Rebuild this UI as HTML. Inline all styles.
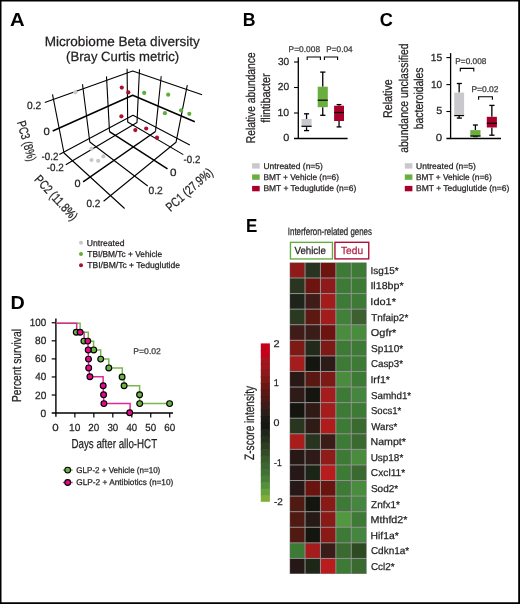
<!DOCTYPE html>
<html><head><meta charset="utf-8"><title>Figure</title>
<style>
html,body{margin:0;padding:0;background:#fff;}
body{width:520px;height:604px;overflow:hidden;}
svg{display:block;font-family:"Liberation Sans", sans-serif;text-rendering:geometricPrecision;will-change:transform;}
</style></head><body>
<svg width="520" height="604" viewBox="0 0 520 604">
<rect x="0" y="0" width="520" height="604" fill="#fff"/>
<text x="10.09" y="26.0" font-size="18.8" font-weight="bold" textLength="14.66" lengthAdjust="spacingAndGlyphs" fill="#000">A</text>
<text x="242.8" y="26.0" font-size="18.8" font-weight="bold" textLength="12.79" lengthAdjust="spacingAndGlyphs" fill="#000">B</text>
<text x="379.77" y="26.0" font-size="18.8" font-weight="bold" textLength="13.12" lengthAdjust="spacingAndGlyphs" fill="#000">C</text>
<text x="10.57" y="308.8" font-size="18.8" font-weight="bold" textLength="14.27" lengthAdjust="spacingAndGlyphs" fill="#000">D</text>
<text x="246.05" y="231.9" font-size="18.8" font-weight="bold" textLength="11.32" lengthAdjust="spacingAndGlyphs" fill="#000">E</text>
<text x="44.68" y="45.6" font-size="13.4" textLength="155.17" lengthAdjust="spacingAndGlyphs" fill="#231f20" stroke="#231f20" stroke-width="0.25">Microbiome Beta diversity</text>
<text x="66.08" y="61.3" font-size="13.4" textLength="113.06" lengthAdjust="spacingAndGlyphs" fill="#231f20" stroke="#231f20" stroke-width="0.25">(Bray Curtis metric)</text>
<polyline points="44.8,102.5 132.7,71.1 202.1,94.8" fill="none" stroke="#000" stroke-width="1.1" stroke-linejoin="round"/>
<polyline points="52.7,131.0 132.7,95.3 194.8,121.8" fill="none" stroke="#000" stroke-width="1.5" stroke-linejoin="round"/>
<polyline points="59.3,154.6 133.0,115.2 189.8,145.0" fill="none" stroke="#000" stroke-width="1.1" stroke-linejoin="round"/>
<polyline points="52.5,94.4 64.0,153.0 124.6,208.5" fill="none" stroke="#000" stroke-width="1.1" stroke-linejoin="round"/>
<polyline points="82.5,84.2 89.8,142.0 147.7,186.0" fill="none" stroke="#000" stroke-width="1.1" stroke-linejoin="round"/>
<polyline points="106.5,76.4 109.5,131.7" fill="none" stroke="#000" stroke-width="1.1" stroke-linejoin="round"/>
<polyline points="109.5,131.7 167.5,168.8" fill="none" stroke="#000" stroke-width="1.5" stroke-linejoin="round"/>
<polyline points="127.1,68.7 127.7,122.0 183.3,154.6" fill="none" stroke="#000" stroke-width="1.1" stroke-linejoin="round"/>
<polyline points="139.5,69.2 137.0,122.5 65.8,164.8" fill="none" stroke="#000" stroke-width="1.1" stroke-linejoin="round"/>
<polyline points="161.2,76.2 155.5,131.5" fill="none" stroke="#000" stroke-width="1.1" stroke-linejoin="round"/>
<polyline points="155.5,131.5 83.1,181.8" fill="none" stroke="#000" stroke-width="1.5" stroke-linejoin="round"/>
<polyline points="187.3,85.2 176.0,142.3 103.6,201.2" fill="none" stroke="#000" stroke-width="1.1" stroke-linejoin="round"/>
<circle cx="75.3" cy="92.3" r="2.1" fill="#c8c8c8"/>
<circle cx="91.5" cy="148.8" r="2.1" fill="#c8c8c8"/>
<circle cx="91.5" cy="160.0" r="2.1" fill="#c8c8c8"/>
<circle cx="98.2" cy="160.8" r="2.1" fill="#c8c8c8"/>
<circle cx="103.4" cy="156.4" r="2.1" fill="#c8c8c8"/>
<circle cx="121.8" cy="87.6" r="2.1" fill="#ad0f2e"/>
<circle cx="128.3" cy="92.4" r="2.1" fill="#ad0f2e"/>
<circle cx="121.4" cy="116.3" r="2.1" fill="#ad0f2e"/>
<circle cx="135.3" cy="130.1" r="2.1" fill="#ad0f2e"/>
<circle cx="146.2" cy="128.5" r="2.1" fill="#ad0f2e"/>
<circle cx="157.0" cy="137.7" r="2.1" fill="#ad0f2e"/>
<circle cx="144.2" cy="92.9" r="2.1" fill="#5fae3c"/>
<circle cx="168.2" cy="94.7" r="2.1" fill="#5fae3c"/>
<circle cx="164.9" cy="113.2" r="2.1" fill="#5fae3c"/>
<circle cx="181.1" cy="110.3" r="2.1" fill="#5fae3c"/>
<circle cx="189.3" cy="113.8" r="2.1" fill="#5fae3c"/>
<text x="27.09" y="108.9" font-size="10.5" textLength="14.22" lengthAdjust="spacingAndGlyphs" fill="#231f20" stroke="#231f20" stroke-width="0.25">0.2</text>
<text x="43.55" y="135.4" font-size="10.5" textLength="6.29" lengthAdjust="spacingAndGlyphs" fill="#231f20" stroke="#231f20" stroke-width="0.25">0</text>
<text x="41.56" y="159.7" font-size="10.5" textLength="16.83" lengthAdjust="spacingAndGlyphs" fill="#231f20" stroke="#231f20" stroke-width="0.25">-0.2</text>
<text x="46.65" y="170.6" font-size="10.5" textLength="17.05" lengthAdjust="spacingAndGlyphs" fill="#231f20" stroke="#231f20" stroke-width="0.25">-0.2</text>
<text x="74.56" y="187.3" font-size="10.5" textLength="6.06" lengthAdjust="spacingAndGlyphs" fill="#231f20" stroke="#231f20" stroke-width="0.25">0</text>
<text x="86.4" y="206.9" font-size="10.5" textLength="13.9" lengthAdjust="spacingAndGlyphs" fill="#231f20" stroke="#231f20" stroke-width="0.25">0.2</text>
<text x="183.56" y="162.5" font-size="10.5" textLength="16.73" lengthAdjust="spacingAndGlyphs" fill="#231f20" stroke="#231f20" stroke-width="0.25">-0.2</text>
<text x="170.13" y="176.3" font-size="10.5" textLength="6.52" lengthAdjust="spacingAndGlyphs" fill="#231f20" stroke="#231f20" stroke-width="0.25">0</text>
<text x="148.59" y="194.4" font-size="10.5" textLength="14.22" lengthAdjust="spacingAndGlyphs" fill="#231f20" stroke="#231f20" stroke-width="0.25">0.2</text>
<text x="-20.79" y="4.4" font-size="12.8" textLength="41.38" lengthAdjust="spacingAndGlyphs" fill="#231f20" stroke="#231f20" stroke-width="0.25" transform="translate(26.8,141.1) rotate(74)">PC3 (8%)</text>
<text x="-28.32" y="4.4" font-size="12.8" textLength="56.45" lengthAdjust="spacingAndGlyphs" fill="#231f20" stroke="#231f20" stroke-width="0.25" transform="translate(56.4,197.8) rotate(47)">PC2 (11.8%)</text>
<text x="-29.03" y="4.4" font-size="12.8" textLength="57.86" lengthAdjust="spacingAndGlyphs" fill="#231f20" stroke="#231f20" stroke-width="0.25" transform="translate(189.3,189.6) rotate(-41.5)">PC1 (27.9%)</text>
<circle cx="81" cy="242.75" r="2.0" fill="#c8c8c8"/>
<text x="86.83" y="245.6" font-size="8.6" textLength="37.72" lengthAdjust="spacingAndGlyphs" fill="#231f20" stroke="#231f20" stroke-width="0.25">Untreated</text>
<circle cx="81" cy="253.95000000000002" r="2.0" fill="#5fae3c"/>
<text x="87.31" y="256.8" font-size="8.6" textLength="74.75" lengthAdjust="spacingAndGlyphs" fill="#231f20" stroke="#231f20" stroke-width="0.25">TBI/BM/Tc + Vehicle</text>
<circle cx="81" cy="265.34999999999997" r="2.0" fill="#ad0f2e"/>
<text x="87.31" y="268.2" font-size="8.6" textLength="92.66" lengthAdjust="spacingAndGlyphs" fill="#231f20" stroke="#231f20" stroke-width="0.25">TBI/BM/Tc + Teduglutide</text>
<line x1="298.3" y1="57.2" x2="298.3" y2="139.1" stroke="#000" stroke-width="1.3" stroke-linecap="butt"/>
<line x1="294.0" y1="138.5" x2="347.6" y2="138.5" stroke="#000" stroke-width="1.3" stroke-linecap="butt"/>
<line x1="294.0" y1="62.0" x2="298.3" y2="62.0" stroke="#000" stroke-width="1.1" stroke-linecap="butt"/>
<text x="277.92" y="64.9" font-size="10.3" textLength="11.28" lengthAdjust="spacingAndGlyphs" fill="#231f20" stroke="#231f20" stroke-width="0.25">30</text>
<line x1="294.0" y1="87.5" x2="298.3" y2="87.5" stroke="#000" stroke-width="1.1" stroke-linecap="butt"/>
<text x="277.79" y="90.4" font-size="10.3" textLength="11.42" lengthAdjust="spacingAndGlyphs" fill="#231f20" stroke="#231f20" stroke-width="0.25">20</text>
<line x1="294.0" y1="113.0" x2="298.3" y2="113.0" stroke="#000" stroke-width="1.1" stroke-linecap="butt"/>
<text x="277.51" y="115.9" font-size="10.3" textLength="11.71" lengthAdjust="spacingAndGlyphs" fill="#231f20" stroke="#231f20" stroke-width="0.25">10</text>
<text x="283.16" y="141.4" font-size="10.3" textLength="6.06" lengthAdjust="spacingAndGlyphs" fill="#231f20" stroke="#231f20" stroke-width="0.25">0</text>
<line x1="306.55" y1="113.8" x2="306.55" y2="119.0" stroke="#000" stroke-width="1.3" stroke-linecap="butt"/>
<line x1="306.55" y1="127.1" x2="306.55" y2="130.6" stroke="#000" stroke-width="1.3" stroke-linecap="butt"/>
<line x1="304.0" y1="113.8" x2="309.1" y2="113.8" stroke="#000" stroke-width="1.3" stroke-linecap="butt"/>
<line x1="304.0" y1="130.6" x2="309.1" y2="130.6" stroke="#000" stroke-width="1.3" stroke-linecap="butt"/>
<rect x="301.5" y="119.0" width="10.100000000000023" height="8.099999999999994" fill="#c9c8cd"/>
<line x1="301.5" y1="126.3" x2="311.6" y2="126.3" stroke="#000" stroke-width="1.2" stroke-linecap="butt"/>
<line x1="322.75" y1="72.1" x2="322.75" y2="86.7" stroke="#000" stroke-width="1.3" stroke-linecap="butt"/>
<line x1="322.75" y1="107.2" x2="322.75" y2="115.3" stroke="#000" stroke-width="1.3" stroke-linecap="butt"/>
<line x1="320.2" y1="72.1" x2="325.4" y2="72.1" stroke="#000" stroke-width="1.3" stroke-linecap="butt"/>
<line x1="320.2" y1="115.3" x2="325.4" y2="115.3" stroke="#000" stroke-width="1.3" stroke-linecap="butt"/>
<rect x="317.7" y="86.7" width="10.100000000000023" height="20.5" fill="#6aae3f"/>
<line x1="317.7" y1="100.2" x2="327.8" y2="100.2" stroke="#000" stroke-width="1.2" stroke-linecap="butt"/>
<line x1="339.05" y1="104.6" x2="339.05" y2="105.7" stroke="#000" stroke-width="1.3" stroke-linecap="butt"/>
<line x1="339.05" y1="121.0" x2="339.05" y2="126.9" stroke="#000" stroke-width="1.3" stroke-linecap="butt"/>
<line x1="336.6" y1="104.6" x2="341.4" y2="104.6" stroke="#000" stroke-width="1.3" stroke-linecap="butt"/>
<line x1="336.6" y1="126.9" x2="341.4" y2="126.9" stroke="#000" stroke-width="1.3" stroke-linecap="butt"/>
<rect x="334.1" y="105.7" width="9.899999999999977" height="15.299999999999997" fill="#a8002a"/>
<line x1="334.1" y1="112.5" x2="344.0" y2="112.5" stroke="#000" stroke-width="1.2" stroke-linecap="butt"/>
<polyline points="307.2,60.0 307.2,57.0 320.4,57.0 320.4,60.0" fill="none" stroke="#000" stroke-width="1.1" stroke-linejoin="miter"/>
<polyline points="324.4,60.0 324.4,57.0 337.6,57.0 337.6,60.0" fill="none" stroke="#000" stroke-width="1.1" stroke-linejoin="miter"/>
<text x="288.61" y="51.8" font-size="8.3" textLength="31.46" lengthAdjust="spacingAndGlyphs" fill="#383838" stroke="#383838" stroke-width="0.25">P=0.008</text>
<text x="326.32" y="51.8" font-size="8.3" textLength="26.22" lengthAdjust="spacingAndGlyphs" fill="#383838" stroke="#383838" stroke-width="0.25">P=0.04</text>
<text x="-45.65" y="4.37" font-size="12.7" textLength="90.89" lengthAdjust="spacingAndGlyphs" fill="#231f20" stroke="#231f20" stroke-width="0.25" transform="translate(250.15,97.6) rotate(-90)">Relative abundance</text>
<text x="-24.66" y="4.37" font-size="12.7" textLength="49.33" lengthAdjust="spacingAndGlyphs" fill="#231f20" stroke="#231f20" stroke-width="0.25" transform="translate(265.15,98.1) rotate(-90)">flintibacter</text>
<rect x="252.1" y="163.2" width="7.6" height="5.4" fill="#c9c8cd"/>
<text x="263.45" y="168.7" font-size="8.4" textLength="59.38" lengthAdjust="spacingAndGlyphs" fill="#231f20" stroke="#231f20" stroke-width="0.25">Untreated (n=5)</text>
<rect x="252.1" y="174.4" width="7.6" height="5.4" fill="#6aae3f"/>
<text x="263.41" y="179.9" font-size="8.4" textLength="75.6" lengthAdjust="spacingAndGlyphs" fill="#231f20" stroke="#231f20" stroke-width="0.25">BMT + Vehicle (n=6)</text>
<rect x="252.1" y="185.9" width="7.6" height="5.4" fill="#a8002a"/>
<text x="263.4" y="191.4" font-size="8.4" textLength="92.93" lengthAdjust="spacingAndGlyphs" fill="#231f20" stroke="#231f20" stroke-width="0.25">BMT + Teduglutide (n=6)</text>
<line x1="450.6" y1="53.1" x2="450.6" y2="139.1" stroke="#000" stroke-width="1.3" stroke-linecap="butt"/>
<line x1="446.4" y1="138.5" x2="501.0" y2="138.5" stroke="#000" stroke-width="1.3" stroke-linecap="butt"/>
<line x1="446.4" y1="57.6" x2="450.6" y2="57.6" stroke="#000" stroke-width="1.1" stroke-linecap="butt"/>
<text x="430.83" y="60.5" font-size="10.3" textLength="11.4" lengthAdjust="spacingAndGlyphs" fill="#231f20" stroke="#231f20" stroke-width="0.25">15</text>
<line x1="446.4" y1="84.6" x2="450.6" y2="84.6" stroke="#000" stroke-width="1.1" stroke-linecap="butt"/>
<text x="430.94" y="87.5" font-size="10.3" textLength="11.26" lengthAdjust="spacingAndGlyphs" fill="#231f20" stroke="#231f20" stroke-width="0.25">10</text>
<line x1="446.4" y1="111.5" x2="450.6" y2="111.5" stroke="#000" stroke-width="1.1" stroke-linecap="butt"/>
<text x="436.27" y="114.4" font-size="10.3" textLength="5.97" lengthAdjust="spacingAndGlyphs" fill="#231f20" stroke="#231f20" stroke-width="0.25">5</text>
<text x="435.84" y="141.4" font-size="10.3" textLength="6.41" lengthAdjust="spacingAndGlyphs" fill="#231f20" stroke="#231f20" stroke-width="0.25">0</text>
<line x1="459.15" y1="83.5" x2="459.15" y2="92.6" stroke="#000" stroke-width="1.3" stroke-linecap="butt"/>
<line x1="459.15" y1="115.4" x2="459.15" y2="118.1" stroke="#000" stroke-width="1.3" stroke-linecap="butt"/>
<line x1="456.8" y1="83.5" x2="461.9" y2="83.5" stroke="#000" stroke-width="1.3" stroke-linecap="butt"/>
<line x1="456.8" y1="118.1" x2="461.9" y2="118.1" stroke="#000" stroke-width="1.3" stroke-linecap="butt"/>
<rect x="454.2" y="92.6" width="9.900000000000034" height="22.80000000000001" fill="#c9c8cd"/>
<line x1="454.2" y1="115.6" x2="464.1" y2="115.6" stroke="#000" stroke-width="1.2" stroke-linecap="butt"/>
<line x1="475.4" y1="125.0" x2="475.4" y2="130.1" stroke="#000" stroke-width="1.3" stroke-linecap="butt"/>
<line x1="475.4" y1="136.6" x2="475.4" y2="136.6" stroke="#000" stroke-width="1.3" stroke-linecap="butt"/>
<line x1="472.9" y1="125.0" x2="477.9" y2="125.0" stroke="#000" stroke-width="1.3" stroke-linecap="butt"/>
<line x1="472.9" y1="136.6" x2="477.9" y2="136.6" stroke="#000" stroke-width="1.3" stroke-linecap="butt"/>
<rect x="470.3" y="130.1" width="10.199999999999989" height="6.5" fill="#6aae3f"/>
<line x1="470.3" y1="136.0" x2="480.5" y2="136.0" stroke="#000" stroke-width="1.2" stroke-linecap="butt"/>
<line x1="491.85" y1="105.4" x2="491.85" y2="116.8" stroke="#000" stroke-width="1.3" stroke-linecap="butt"/>
<line x1="491.85" y1="127.5" x2="491.85" y2="135.2" stroke="#000" stroke-width="1.3" stroke-linecap="butt"/>
<line x1="489.3" y1="105.4" x2="494.5" y2="105.4" stroke="#000" stroke-width="1.3" stroke-linecap="butt"/>
<line x1="489.3" y1="135.2" x2="494.5" y2="135.2" stroke="#000" stroke-width="1.3" stroke-linecap="butt"/>
<rect x="486.8" y="116.8" width="10.099999999999966" height="10.700000000000003" fill="#a8002a"/>
<line x1="486.8" y1="123.3" x2="496.9" y2="123.3" stroke="#000" stroke-width="1.2" stroke-linecap="butt"/>
<polyline points="460.3,71.4 460.3,68.4 473.8,68.4 473.8,71.4" fill="none" stroke="#000" stroke-width="1.1" stroke-linejoin="miter"/>
<polyline points="478.6,99.7 478.6,96.7 492.4,96.7 492.4,99.7" fill="none" stroke="#000" stroke-width="1.1" stroke-linejoin="miter"/>
<text x="455.32" y="63.8" font-size="8.3" textLength="31.04" lengthAdjust="spacingAndGlyphs" fill="#383838" stroke="#383838" stroke-width="0.25">P=0.008</text>
<text x="471.4" y="91.8" font-size="8.3" textLength="27.14" lengthAdjust="spacingAndGlyphs" fill="#383838" stroke="#383838" stroke-width="0.25">P=0.02</text>
<text x="-19.58" y="4.37" font-size="12.7" textLength="38.75" lengthAdjust="spacingAndGlyphs" fill="#231f20" stroke="#231f20" stroke-width="0.25" transform="translate(387.95,98.4) rotate(-90)">Relative</text>
<text x="-54.59" y="4.37" font-size="12.7" textLength="109.4" lengthAdjust="spacingAndGlyphs" fill="#231f20" stroke="#231f20" stroke-width="0.25" transform="translate(403.45,98.2) rotate(-90)">abundance unclassified</text>
<text x="-31.02" y="4.37" font-size="12.7" textLength="61.75" lengthAdjust="spacingAndGlyphs" fill="#231f20" stroke="#231f20" stroke-width="0.25" transform="translate(418.95,98.2) rotate(-90)">bacteroidales</text>
<rect x="404.8" y="163.2" width="7.6" height="5.4" fill="#c9c8cd"/>
<text x="416.04" y="168.7" font-size="8.4" textLength="59.79" lengthAdjust="spacingAndGlyphs" fill="#231f20" stroke="#231f20" stroke-width="0.25">Untreated (n=5)</text>
<rect x="404.8" y="174.4" width="7.6" height="5.4" fill="#6aae3f"/>
<text x="416.01" y="179.9" font-size="8.4" textLength="75.71" lengthAdjust="spacingAndGlyphs" fill="#231f20" stroke="#231f20" stroke-width="0.25">BMT + Vehicle (n=6)</text>
<rect x="404.8" y="185.9" width="7.6" height="5.4" fill="#a8002a"/>
<text x="416.0" y="191.4" font-size="8.4" textLength="93.33" lengthAdjust="spacingAndGlyphs" fill="#231f20" stroke="#231f20" stroke-width="0.25">BMT + Teduglutide (n=6)</text>
<line x1="55.9" y1="318.6" x2="55.9" y2="416.8" stroke="#000" stroke-width="1.4" stroke-linecap="butt"/>
<line x1="51.7" y1="413.1" x2="173.0" y2="413.1" stroke="#000" stroke-width="1.5" stroke-linecap="butt"/>
<line x1="51.7" y1="322.75" x2="55.9" y2="322.75" stroke="#000" stroke-width="1.2" stroke-linecap="butt"/>
<line x1="51.7" y1="340.82" x2="55.9" y2="340.82" stroke="#000" stroke-width="1.2" stroke-linecap="butt"/>
<line x1="51.7" y1="358.89" x2="55.9" y2="358.89" stroke="#000" stroke-width="1.2" stroke-linecap="butt"/>
<line x1="51.7" y1="376.96" x2="55.9" y2="376.96" stroke="#000" stroke-width="1.2" stroke-linecap="butt"/>
<line x1="51.7" y1="395.03" x2="55.9" y2="395.03" stroke="#000" stroke-width="1.2" stroke-linecap="butt"/>
<line x1="74.87" y1="413.1" x2="74.87" y2="417.5" stroke="#000" stroke-width="1.2" stroke-linecap="butt"/>
<line x1="93.84" y1="413.1" x2="93.84" y2="417.5" stroke="#000" stroke-width="1.2" stroke-linecap="butt"/>
<line x1="112.81" y1="413.1" x2="112.81" y2="417.5" stroke="#000" stroke-width="1.2" stroke-linecap="butt"/>
<line x1="131.78" y1="413.1" x2="131.78" y2="417.5" stroke="#000" stroke-width="1.2" stroke-linecap="butt"/>
<line x1="150.75" y1="413.1" x2="150.75" y2="417.5" stroke="#000" stroke-width="1.2" stroke-linecap="butt"/>
<line x1="169.72" y1="413.1" x2="169.72" y2="417.5" stroke="#000" stroke-width="1.2" stroke-linecap="butt"/>
<text x="29.86" y="326.25" font-size="10.5" textLength="16.42" lengthAdjust="spacingAndGlyphs" fill="#231f20" stroke="#231f20" stroke-width="0.25">100</text>
<text x="35.07" y="344.32" font-size="10.5" textLength="11.23" lengthAdjust="spacingAndGlyphs" fill="#231f20" stroke="#231f20" stroke-width="0.25">80</text>
<text x="34.99" y="362.39" font-size="10.5" textLength="11.31" lengthAdjust="spacingAndGlyphs" fill="#231f20" stroke="#231f20" stroke-width="0.25">60</text>
<text x="35.28" y="380.46" font-size="10.5" textLength="11.02" lengthAdjust="spacingAndGlyphs" fill="#231f20" stroke="#231f20" stroke-width="0.25">40</text>
<text x="34.99" y="398.53" font-size="10.5" textLength="11.31" lengthAdjust="spacingAndGlyphs" fill="#231f20" stroke="#231f20" stroke-width="0.25">20</text>
<text x="40.59" y="416.6" font-size="10.5" textLength="5.71" lengthAdjust="spacingAndGlyphs" fill="#231f20" stroke="#231f20" stroke-width="0.25">0</text>
<text x="52.39" y="430.5" font-size="10.3" textLength="6.41" lengthAdjust="spacingAndGlyphs" fill="#231f20" stroke="#231f20" stroke-width="0.25">0</text>
<text x="69.06" y="430.5" font-size="10.3" textLength="11.26" lengthAdjust="spacingAndGlyphs" fill="#231f20" stroke="#231f20" stroke-width="0.25">10</text>
<text x="88.3" y="430.5" font-size="10.3" textLength="10.99" lengthAdjust="spacingAndGlyphs" fill="#231f20" stroke="#231f20" stroke-width="0.25">20</text>
<text x="107.39" y="430.5" font-size="10.3" textLength="10.85" lengthAdjust="spacingAndGlyphs" fill="#231f20" stroke="#231f20" stroke-width="0.25">30</text>
<text x="126.51" y="430.5" font-size="10.3" textLength="10.7" lengthAdjust="spacingAndGlyphs" fill="#231f20" stroke="#231f20" stroke-width="0.25">40</text>
<text x="145.31" y="430.5" font-size="10.3" textLength="10.88" lengthAdjust="spacingAndGlyphs" fill="#231f20" stroke="#231f20" stroke-width="0.25">50</text>
<text x="164.18" y="430.5" font-size="10.3" textLength="10.99" lengthAdjust="spacingAndGlyphs" fill="#231f20" stroke="#231f20" stroke-width="0.25">60</text>
<text x="71.5" y="448.3" font-size="13.0" textLength="85.62" lengthAdjust="spacingAndGlyphs" fill="#231f20" stroke="#231f20" stroke-width="0.25">Days after allo-HCT</text>
<text x="-36.6" y="4.47" font-size="13.0" textLength="73.03" lengthAdjust="spacingAndGlyphs" fill="#231f20" stroke="#231f20" stroke-width="0.25" transform="translate(16.95,365.5) rotate(-90)">Percent survival</text>
<text x="133.39" y="354.2" font-size="8.3" textLength="27.46" lengthAdjust="spacingAndGlyphs" fill="#383838" stroke="#383838" stroke-width="0.25">P=0.02</text>
<polyline points="55.9,323.2 80.1,323.2 80.1,332.2 88.3,332.2 88.3,341.2 93.6,341.2 93.6,350.0 100.7,350.0 100.7,359.1 108.8,359.1 108.8,368.0 122.3,368.0 122.3,377.0 124.0,377.0 124.0,385.8 139.6,385.8 139.6,403.6 169.6,403.6" fill="none" stroke="#7ab84e" stroke-width="1.5" stroke-linejoin="miter"/>
<polyline points="55.9,323.2 76.7,323.2 76.7,332.2 84.1,332.2 84.1,341.2 87.9,341.2 88.2,350.0 88.5,359.1 88.7,368.0 89.9,376.8 103.1,376.8 103.1,385.8 103.5,394.6 103.9,403.6 130.1,403.6 130.1,412.6" fill="none" stroke="#dd2a94" stroke-width="1.5" stroke-linejoin="miter"/>
<circle cx="76.25" cy="332.3" r="2.9" fill="#6bb244" stroke="#000" stroke-width="1.15"/>
<circle cx="83.9" cy="341.1" r="2.9" fill="#6bb244" stroke="#000" stroke-width="1.15"/>
<circle cx="93.7" cy="349.9" r="2.9" fill="#6bb244" stroke="#000" stroke-width="1.15"/>
<circle cx="100.7" cy="359.1" r="2.9" fill="#6bb244" stroke="#000" stroke-width="1.15"/>
<circle cx="108.8" cy="367.9" r="2.9" fill="#6bb244" stroke="#000" stroke-width="1.15"/>
<circle cx="122.1" cy="377.0" r="2.9" fill="#6bb244" stroke="#000" stroke-width="1.15"/>
<circle cx="124.1" cy="385.8" r="2.9" fill="#6bb244" stroke="#000" stroke-width="1.15"/>
<circle cx="139.6" cy="394.7" r="2.9" fill="#6bb244" stroke="#000" stroke-width="1.15"/>
<circle cx="139.7" cy="403.6" r="2.9" fill="#6bb244" stroke="#000" stroke-width="1.15"/>
<circle cx="169.6" cy="403.6" r="2.9" fill="#6bb244" stroke="#000" stroke-width="1.15"/>
<circle cx="80.1" cy="332.3" r="2.9" fill="#e4098b" stroke="#000" stroke-width="1.15"/>
<circle cx="87.8" cy="341.1" r="2.9" fill="#e4098b" stroke="#000" stroke-width="1.15"/>
<circle cx="88.2" cy="349.9" r="2.9" fill="#e4098b" stroke="#000" stroke-width="1.15"/>
<circle cx="88.5" cy="359.1" r="2.9" fill="#e4098b" stroke="#000" stroke-width="1.15"/>
<circle cx="88.7" cy="367.9" r="2.9" fill="#e4098b" stroke="#000" stroke-width="1.15"/>
<circle cx="89.9" cy="376.8" r="2.9" fill="#e4098b" stroke="#000" stroke-width="1.15"/>
<circle cx="103.2" cy="385.8" r="2.9" fill="#e4098b" stroke="#000" stroke-width="1.15"/>
<circle cx="103.6" cy="394.7" r="2.9" fill="#e4098b" stroke="#000" stroke-width="1.15"/>
<circle cx="103.9" cy="403.6" r="2.9" fill="#e4098b" stroke="#000" stroke-width="1.15"/>
<circle cx="129.7" cy="412.8" r="2.9" fill="#e4098b" stroke="#000" stroke-width="1.15"/>
<line x1="62.9" y1="470.1" x2="72.7" y2="470.1" stroke="#7ab84e" stroke-width="1.5" stroke-linecap="butt"/>
<circle cx="67.7" cy="470.1" r="2.9" fill="#6bb244" stroke="#000" stroke-width="1.15"/>
<text x="76.3" y="473.0" font-size="8.4" textLength="84.01" lengthAdjust="spacingAndGlyphs" fill="#231f20" stroke="#231f20" stroke-width="0.25">GLP-2 + Vehicle (n=10)</text>
<line x1="62.9" y1="482.5" x2="72.7" y2="482.5" stroke="#dd2a94" stroke-width="1.5" stroke-linecap="butt"/>
<circle cx="67.7" cy="482.5" r="2.9" fill="#e4098b" stroke="#000" stroke-width="1.15"/>
<text x="76.29" y="485.4" font-size="8.4" textLength="97.04" lengthAdjust="spacingAndGlyphs" fill="#231f20" stroke="#231f20" stroke-width="0.25">GLP-2 + Antibiotics (n=10)</text>
<text x="287.87" y="235.3" font-size="10.5" textLength="84.01" lengthAdjust="spacingAndGlyphs" fill="#231f20" stroke="#231f20" stroke-width="0.25">Interferon-related genes</text>
<rect x="290.45" y="242.35" width="42.0" height="16.6" fill="none" stroke="#5fae3c" stroke-width="1.35"/>
<rect x="334.95" y="242.3" width="33.8" height="16.6" fill="none" stroke="#b0103a" stroke-width="1.4"/>
<text x="294.45" y="253.9" font-size="10.3" textLength="31.38" lengthAdjust="spacingAndGlyphs" fill="#231f20" stroke="#231f20" stroke-width="0.25">Vehicle</text>
<text x="340.97" y="254.0" font-size="10.3" textLength="22.1" lengthAdjust="spacingAndGlyphs" fill="#b5234a" stroke="#b5234a" stroke-width="0.25">Tedu</text>
<rect x="289.6" y="262.4" width="77.1" height="311.6" fill="#939393"/>
<rect x="290.1" y="262.9" width="14.42" height="14.58" fill="#8e1a1a"/>
<rect x="305.52" y="262.9" width="14.42" height="14.58" fill="#283420"/>
<rect x="320.94" y="262.9" width="14.42" height="14.58" fill="#6e1410"/>
<rect x="336.36" y="262.9" width="14.42" height="14.58" fill="#3d7a35"/>
<rect x="351.78" y="262.9" width="14.42" height="14.58" fill="#3d7a35"/>
<rect x="290.1" y="278.48" width="14.42" height="14.58" fill="#2a3520"/>
<rect x="305.52" y="278.48" width="14.42" height="14.58" fill="#6e1410"/>
<rect x="320.94" y="278.48" width="14.42" height="14.58" fill="#8e1a1a"/>
<rect x="336.36" y="278.48" width="14.42" height="14.58" fill="#3d7a35"/>
<rect x="351.78" y="278.48" width="14.42" height="14.58" fill="#3d7a35"/>
<rect x="290.1" y="294.06" width="14.42" height="14.58" fill="#1e2419"/>
<rect x="305.52" y="294.06" width="14.42" height="14.58" fill="#401c18"/>
<rect x="320.94" y="294.06" width="14.42" height="14.58" fill="#a31c1c"/>
<rect x="336.36" y="294.06" width="14.42" height="14.58" fill="#3d7a35"/>
<rect x="351.78" y="294.06" width="14.42" height="14.58" fill="#3d7a35"/>
<rect x="290.1" y="309.64" width="14.42" height="14.58" fill="#2a3a20"/>
<rect x="305.52" y="309.64" width="14.42" height="14.58" fill="#5e1812"/>
<rect x="320.94" y="309.64" width="14.42" height="14.58" fill="#a31c1c"/>
<rect x="336.36" y="309.64" width="14.42" height="14.58" fill="#408038"/>
<rect x="351.78" y="309.64" width="14.42" height="14.58" fill="#3d6030"/>
<rect x="290.1" y="325.22" width="14.42" height="14.58" fill="#401c18"/>
<rect x="305.52" y="325.22" width="14.42" height="14.58" fill="#3a1c18"/>
<rect x="320.94" y="325.22" width="14.42" height="14.58" fill="#6e1410"/>
<rect x="336.36" y="325.22" width="14.42" height="14.58" fill="#4a8c3e"/>
<rect x="351.78" y="325.22" width="14.42" height="14.58" fill="#4a8c3e"/>
<rect x="290.1" y="340.8" width="14.42" height="14.58" fill="#7e1a16"/>
<rect x="305.52" y="340.8" width="14.42" height="14.58" fill="#222a1c"/>
<rect x="320.94" y="340.8" width="14.42" height="14.58" fill="#7e1a16"/>
<rect x="336.36" y="340.8" width="14.42" height="14.58" fill="#3d7a35"/>
<rect x="351.78" y="340.8" width="14.42" height="14.58" fill="#3d7a35"/>
<rect x="290.1" y="356.38" width="14.42" height="14.58" fill="#a51c1c"/>
<rect x="305.52" y="356.38" width="14.42" height="14.58" fill="#151510"/>
<rect x="320.94" y="356.38" width="14.42" height="14.58" fill="#2e1a16"/>
<rect x="336.36" y="356.38" width="14.42" height="14.58" fill="#3d7a35"/>
<rect x="351.78" y="356.38" width="14.42" height="14.58" fill="#3d7a35"/>
<rect x="290.1" y="371.96" width="14.42" height="14.58" fill="#281816"/>
<rect x="305.52" y="371.96" width="14.42" height="14.58" fill="#5a1812"/>
<rect x="320.94" y="371.96" width="14.42" height="14.58" fill="#7e1a16"/>
<rect x="336.36" y="371.96" width="14.42" height="14.58" fill="#4a8c3e"/>
<rect x="351.78" y="371.96" width="14.42" height="14.58" fill="#3d7a35"/>
<rect x="290.1" y="387.54" width="14.42" height="14.58" fill="#2e1a16"/>
<rect x="305.52" y="387.54" width="14.42" height="14.58" fill="#151510"/>
<rect x="320.94" y="387.54" width="14.42" height="14.58" fill="#a51c1c"/>
<rect x="336.36" y="387.54" width="14.42" height="14.58" fill="#3d7a35"/>
<rect x="351.78" y="387.54" width="14.42" height="14.58" fill="#458540"/>
<rect x="290.1" y="403.12" width="14.42" height="14.58" fill="#151510"/>
<rect x="305.52" y="403.12" width="14.42" height="14.58" fill="#301a16"/>
<rect x="320.94" y="403.12" width="14.42" height="14.58" fill="#a51c1c"/>
<rect x="336.36" y="403.12" width="14.42" height="14.58" fill="#3d7a35"/>
<rect x="351.78" y="403.12" width="14.42" height="14.58" fill="#3d7a35"/>
<rect x="290.1" y="418.7" width="14.42" height="14.58" fill="#2a3520"/>
<rect x="305.52" y="418.7" width="14.42" height="14.58" fill="#301a16"/>
<rect x="320.94" y="418.7" width="14.42" height="14.58" fill="#b01c1c"/>
<rect x="336.36" y="418.7" width="14.42" height="14.58" fill="#3d7a35"/>
<rect x="351.78" y="418.7" width="14.42" height="14.58" fill="#3a6a30"/>
<rect x="290.1" y="434.28" width="14.42" height="14.58" fill="#a81c1c"/>
<rect x="305.52" y="434.28" width="14.42" height="14.58" fill="#283420"/>
<rect x="320.94" y="434.28" width="14.42" height="14.58" fill="#3a1c18"/>
<rect x="336.36" y="434.28" width="14.42" height="14.58" fill="#3d7a35"/>
<rect x="351.78" y="434.28" width="14.42" height="14.58" fill="#3a6a30"/>
<rect x="290.1" y="449.86" width="14.42" height="14.58" fill="#261816"/>
<rect x="305.52" y="449.86" width="14.42" height="14.58" fill="#2e1a16"/>
<rect x="320.94" y="449.86" width="14.42" height="14.58" fill="#8e1c18"/>
<rect x="336.36" y="449.86" width="14.42" height="14.58" fill="#3d7a35"/>
<rect x="351.78" y="449.86" width="14.42" height="14.58" fill="#4a8c3e"/>
<rect x="290.1" y="465.44" width="14.42" height="14.58" fill="#261816"/>
<rect x="305.52" y="465.44" width="14.42" height="14.58" fill="#1c2418"/>
<rect x="320.94" y="465.44" width="14.42" height="14.58" fill="#b81c1c"/>
<rect x="336.36" y="465.44" width="14.42" height="14.58" fill="#3d7a35"/>
<rect x="351.78" y="465.44" width="14.42" height="14.58" fill="#3a6a30"/>
<rect x="290.1" y="481.02" width="14.42" height="14.58" fill="#261816"/>
<rect x="305.52" y="481.02" width="14.42" height="14.58" fill="#6a1410"/>
<rect x="320.94" y="481.02" width="14.42" height="14.58" fill="#6a1410"/>
<rect x="336.36" y="481.02" width="14.42" height="14.58" fill="#3d7a35"/>
<rect x="351.78" y="481.02" width="14.42" height="14.58" fill="#4a8c3e"/>
<rect x="290.1" y="496.6" width="14.42" height="14.58" fill="#4e1a12"/>
<rect x="305.52" y="496.6" width="14.42" height="14.58" fill="#151510"/>
<rect x="320.94" y="496.6" width="14.42" height="14.58" fill="#8a1a16"/>
<rect x="336.36" y="496.6" width="14.42" height="14.58" fill="#3d7a35"/>
<rect x="351.78" y="496.6" width="14.42" height="14.58" fill="#458540"/>
<rect x="290.1" y="512.18" width="14.42" height="14.58" fill="#501a12"/>
<rect x="305.52" y="512.18" width="14.42" height="14.58" fill="#261a16"/>
<rect x="320.94" y="512.18" width="14.42" height="14.58" fill="#8a1a16"/>
<rect x="336.36" y="512.18" width="14.42" height="14.58" fill="#52983f"/>
<rect x="351.78" y="512.18" width="14.42" height="14.58" fill="#3d7a35"/>
<rect x="290.1" y="527.76" width="14.42" height="14.58" fill="#501a12"/>
<rect x="305.52" y="527.76" width="14.42" height="14.58" fill="#151510"/>
<rect x="320.94" y="527.76" width="14.42" height="14.58" fill="#8a1a16"/>
<rect x="336.36" y="527.76" width="14.42" height="14.58" fill="#3d7a35"/>
<rect x="351.78" y="527.76" width="14.42" height="14.58" fill="#458540"/>
<rect x="290.1" y="543.34" width="14.42" height="14.58" fill="#3d7a35"/>
<rect x="305.52" y="543.34" width="14.42" height="14.58" fill="#a51c1c"/>
<rect x="320.94" y="543.34" width="14.42" height="14.58" fill="#3a1c18"/>
<rect x="336.36" y="543.34" width="14.42" height="14.58" fill="#3a6a30"/>
<rect x="351.78" y="543.34" width="14.42" height="14.58" fill="#2e4a22"/>
<rect x="290.1" y="558.92" width="14.42" height="14.58" fill="#261816"/>
<rect x="305.52" y="558.92" width="14.42" height="14.58" fill="#1e2618"/>
<rect x="320.94" y="558.92" width="14.42" height="14.58" fill="#b81c1c"/>
<rect x="336.36" y="558.92" width="14.42" height="14.58" fill="#3d7a35"/>
<rect x="351.78" y="558.92" width="14.42" height="14.58" fill="#3a6a30"/>
<text x="370.48" y="273.9" font-size="10.0" textLength="28.17" lengthAdjust="spacingAndGlyphs" fill="#231f20" stroke="#231f20" stroke-width="0.25">Isg15*</text>
<text x="370.41" y="289.48" font-size="10.0" textLength="33.16" lengthAdjust="spacingAndGlyphs" fill="#231f20" stroke="#231f20" stroke-width="0.25">Il18bp*</text>
<text x="370.39" y="305.06" font-size="10.0" textLength="25.58" lengthAdjust="spacingAndGlyphs" fill="#231f20" stroke="#231f20" stroke-width="0.25">Ido1*</text>
<text x="371.18" y="320.64" font-size="10.0" textLength="37.1" lengthAdjust="spacingAndGlyphs" fill="#231f20" stroke="#231f20" stroke-width="0.25">Tnfaip2*</text>
<text x="370.88" y="336.22" font-size="10.0" textLength="25.5" lengthAdjust="spacingAndGlyphs" fill="#231f20" stroke="#231f20" stroke-width="0.25">Ogfr*</text>
<text x="370.95" y="351.8" font-size="10.0" textLength="32.32" lengthAdjust="spacingAndGlyphs" fill="#231f20" stroke="#231f20" stroke-width="0.25">Sp110*</text>
<text x="370.91" y="367.38" font-size="10.0" textLength="32.06" lengthAdjust="spacingAndGlyphs" fill="#231f20" stroke="#231f20" stroke-width="0.25">Casp3*</text>
<text x="370.41" y="382.96" font-size="10.0" textLength="19.56" lengthAdjust="spacingAndGlyphs" fill="#231f20" stroke="#231f20" stroke-width="0.25">Irf1*</text>
<text x="370.96" y="398.54" font-size="10.0" textLength="40.2" lengthAdjust="spacingAndGlyphs" fill="#231f20" stroke="#231f20" stroke-width="0.25">Samhd1*</text>
<text x="370.97" y="414.12" font-size="10.0" textLength="30.28" lengthAdjust="spacingAndGlyphs" fill="#231f20" stroke="#231f20" stroke-width="0.25">Socs1*</text>
<text x="371.35" y="429.7" font-size="10.0" textLength="25.92" lengthAdjust="spacingAndGlyphs" fill="#231f20" stroke="#231f20" stroke-width="0.25">Wars*</text>
<text x="370.53" y="445.28" font-size="10.0" textLength="35.36" lengthAdjust="spacingAndGlyphs" fill="#231f20" stroke="#231f20" stroke-width="0.25">Nampt*</text>
<text x="370.63" y="460.86" font-size="10.0" textLength="32.64" lengthAdjust="spacingAndGlyphs" fill="#231f20" stroke="#231f20" stroke-width="0.25">Usp18*</text>
<text x="370.89" y="476.44" font-size="10.0" textLength="34.38" lengthAdjust="spacingAndGlyphs" fill="#231f20" stroke="#231f20" stroke-width="0.25">Cxcl11*</text>
<text x="370.95" y="492.02" font-size="10.0" textLength="27.32" lengthAdjust="spacingAndGlyphs" fill="#231f20" stroke="#231f20" stroke-width="0.25">Sod2*</text>
<text x="371.08" y="507.6" font-size="10.0" textLength="28.9" lengthAdjust="spacingAndGlyphs" fill="#231f20" stroke="#231f20" stroke-width="0.25">Znfx1*</text>
<text x="370.52" y="523.18" font-size="10.0" textLength="36.96" lengthAdjust="spacingAndGlyphs" fill="#231f20" stroke="#231f20" stroke-width="0.25">Mthfd2*</text>
<text x="370.55" y="538.76" font-size="10.0" textLength="28.12" lengthAdjust="spacingAndGlyphs" fill="#231f20" stroke="#231f20" stroke-width="0.25">Hif1a*</text>
<text x="370.9" y="554.34" font-size="10.0" textLength="38.26" lengthAdjust="spacingAndGlyphs" fill="#231f20" stroke="#231f20" stroke-width="0.25">Cdkn1a*</text>
<text x="370.9" y="569.92" font-size="10.0" textLength="23.77" lengthAdjust="spacingAndGlyphs" fill="#231f20" stroke="#231f20" stroke-width="0.25">Ccl2*</text>
<rect x="260.8" y="343.4" width="9.1" height="7.6" fill="#c4001a"/>
<rect x="260.8" y="350.0" width="9.1" height="7.6" fill="#c4001a"/>
<rect x="260.8" y="356.6" width="9.1" height="7.6" fill="#a8141e"/>
<rect x="260.8" y="363.2" width="9.1" height="7.6" fill="#9a181e"/>
<rect x="260.8" y="369.8" width="9.1" height="7.6" fill="#8c1a1c"/>
<rect x="260.8" y="376.4" width="9.1" height="7.6" fill="#7c1a18"/>
<rect x="260.8" y="383.0" width="9.1" height="7.6" fill="#6a1816"/>
<rect x="260.8" y="389.6" width="9.1" height="7.6" fill="#5a1814"/>
<rect x="260.8" y="396.2" width="9.1" height="7.6" fill="#4a1a16"/>
<rect x="260.8" y="402.8" width="9.1" height="7.6" fill="#3a1c18"/>
<rect x="260.8" y="409.4" width="9.1" height="7.6" fill="#2a1e18"/>
<rect x="260.8" y="416.0" width="9.1" height="7.6" fill="#1c1a14"/>
<rect x="260.8" y="422.6" width="9.1" height="7.6" fill="#161612"/>
<rect x="260.8" y="429.2" width="9.1" height="7.6" fill="#1e261c"/>
<rect x="260.8" y="435.8" width="9.1" height="7.6" fill="#26301f"/>
<rect x="260.8" y="442.4" width="9.1" height="7.6" fill="#2e3c24"/>
<rect x="260.8" y="449.0" width="9.1" height="7.6" fill="#344a28"/>
<rect x="260.8" y="455.6" width="9.1" height="7.6" fill="#3a5a2e"/>
<rect x="260.8" y="462.2" width="9.1" height="7.6" fill="#3e6432"/>
<rect x="260.8" y="468.8" width="9.1" height="7.6" fill="#437034"/>
<rect x="260.8" y="475.4" width="9.1" height="7.6" fill="#4a7e38"/>
<rect x="260.8" y="482.0" width="9.1" height="7.6" fill="#54903c"/>
<rect x="260.8" y="488.6" width="9.1" height="7.6" fill="#66a03c"/>
<rect x="260.8" y="495.2" width="9.1" height="6.6" fill="#80ae3a"/>
<text x="273.55" y="347.45" font-size="9.8" textLength="6.11" lengthAdjust="spacingAndGlyphs" fill="#231f20" stroke="#231f20" stroke-width="0.25">2</text>
<text x="273.71" y="385.65" font-size="9.8" textLength="5.14" lengthAdjust="spacingAndGlyphs" fill="#231f20" stroke="#231f20" stroke-width="0.25">1</text>
<text x="273.47" y="425.65" font-size="9.8" textLength="5.94" lengthAdjust="spacingAndGlyphs" fill="#231f20" stroke="#231f20" stroke-width="0.25">0</text>
<text x="274.01" y="465.65" font-size="9.8" textLength="7.72" lengthAdjust="spacingAndGlyphs" fill="#231f20" stroke="#231f20" stroke-width="0.25">-1</text>
<text x="273.95" y="505.35" font-size="9.8" textLength="8.86" lengthAdjust="spacingAndGlyphs" fill="#231f20" stroke="#231f20" stroke-width="0.25">-2</text>
<text x="-37.13" y="4.68" font-size="13.6" textLength="73.96" lengthAdjust="spacingAndGlyphs" fill="#231f20" stroke="#231f20" stroke-width="0.25" transform="translate(249.6,422.8) rotate(-90)">Z-score intensity</text>
<path d="M0 0H520V604H0Z M1.5 1.5V602.2H518.2V1.5Z" fill="#000" fill-rule="evenodd"/>
</svg>
</body></html>
